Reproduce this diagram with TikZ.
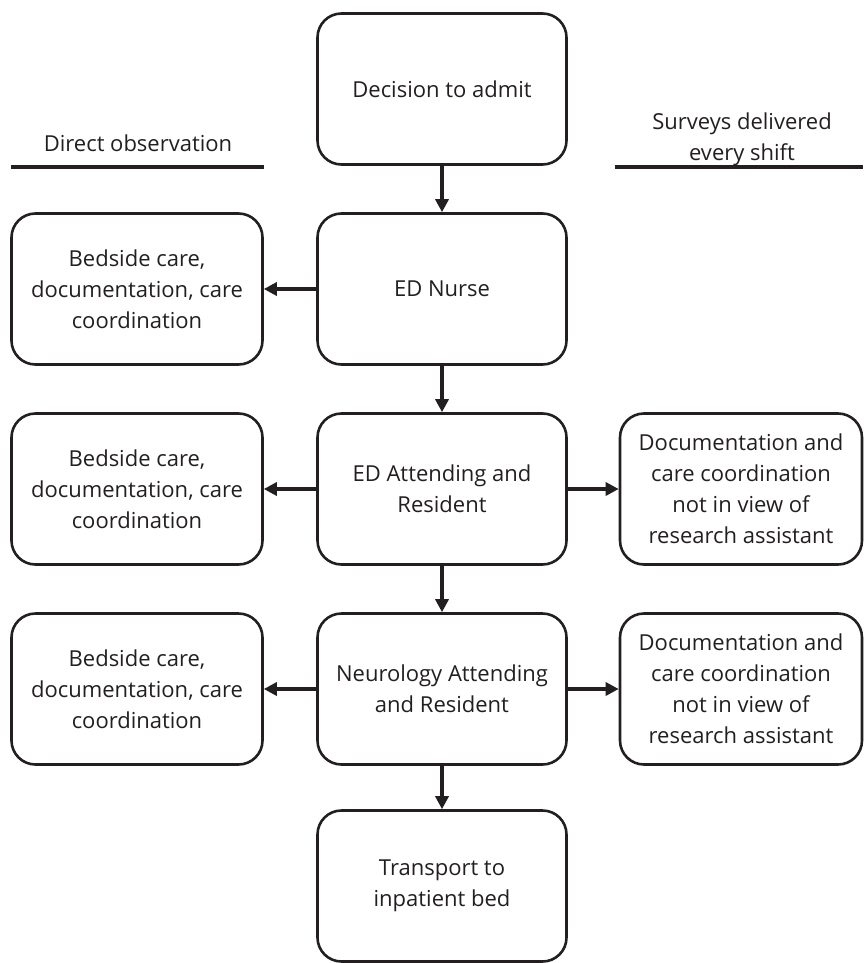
\documentclass[tikz,border=0pt]{standalone}
\usepackage{fontspec}
\setmainfont{Open Sans}
\usetikzlibrary{arrows.meta}
\definecolor{ink}{HTML}{231F20}
\begin{document}
\begin{tikzpicture}[x=1pt,y=-1pt,
  box/.style={draw=ink, line width=2.6pt, rounded corners=24pt, text=ink,
    align=center, minimum height=151pt, inner sep=0pt,
    font=\fontsize{22}{31}\selectfont},
  cbox/.style={box, minimum width=249pt},
  sbox/.style={box, minimum width=251pt},
  rbox/.style={box, minimum width=242pt},
  arr/.style={draw=ink, line width=3.5pt, -{Triangle[length=13pt,width=13pt]}},
  hline/.style={draw=ink, line width=3.5pt},
  hdr/.style={text=ink, align=center, inner sep=0pt, font=\fontsize{22}{31}\selectfont}]
\useasboundingbox (0,0) rectangle (863,963);
% centre column
\node[cbox] (c0) at (442,89) {Decision to admit};
\node[cbox] (c1) at (442,289) {ED Nurse};
\node[cbox] (c2) at (442,489) {ED Attending and\\Resident};
\node[cbox] (c3) at (442,689) {Neurology Attending\\and Resident};
\node[cbox] (c4) at (442,886) {Transport to\\inpatient bed};
% left column
\node[sbox] (l1) at (137,289) {Bedside care,\\documentation, care\\coordination};
\node[sbox] (l2) at (137,489) {Bedside care,\\documentation, care\\coordination};
\node[sbox] (l3) at (137,689) {Bedside care,\\documentation, care\\coordination};
% right column
\node[rbox] (r2) at (741,489) {Documentation and\\care coordination\\not in view of\\research assistant};
\node[rbox] (r3) at (741,689) {Documentation and\\care coordination\\not in view of\\research assistant};
% headers
\node[hdr] (h1) at (138,143) {Direct observation};
\node[hdr] (h2) at (742,139) {Surveys delivered\\every shift};
\coordinate (h1a) at (11,167); \coordinate (h1b) at (264,167);
\coordinate (h2a) at (615,167); \coordinate (h2b) at (863,167);
\draw[hline] (h1a) -- (h1b);
\draw[hline] (h2a) -- (h2b);
% arrows
\draw[arr] (c0) -- (c1);
\draw[arr] (c1) -- (c2);
\draw[arr] (c2) -- (c3);
\draw[arr] (c3) -- (c4);
\draw[arr] (c1) -- (l1);
\draw[arr] (c2) -- (l2);
\draw[arr] (c3) -- (l3);
\draw[arr] (c2) -- (r2);
\draw[arr] (c3) -- (r3);
\end{tikzpicture}
\end{document}
